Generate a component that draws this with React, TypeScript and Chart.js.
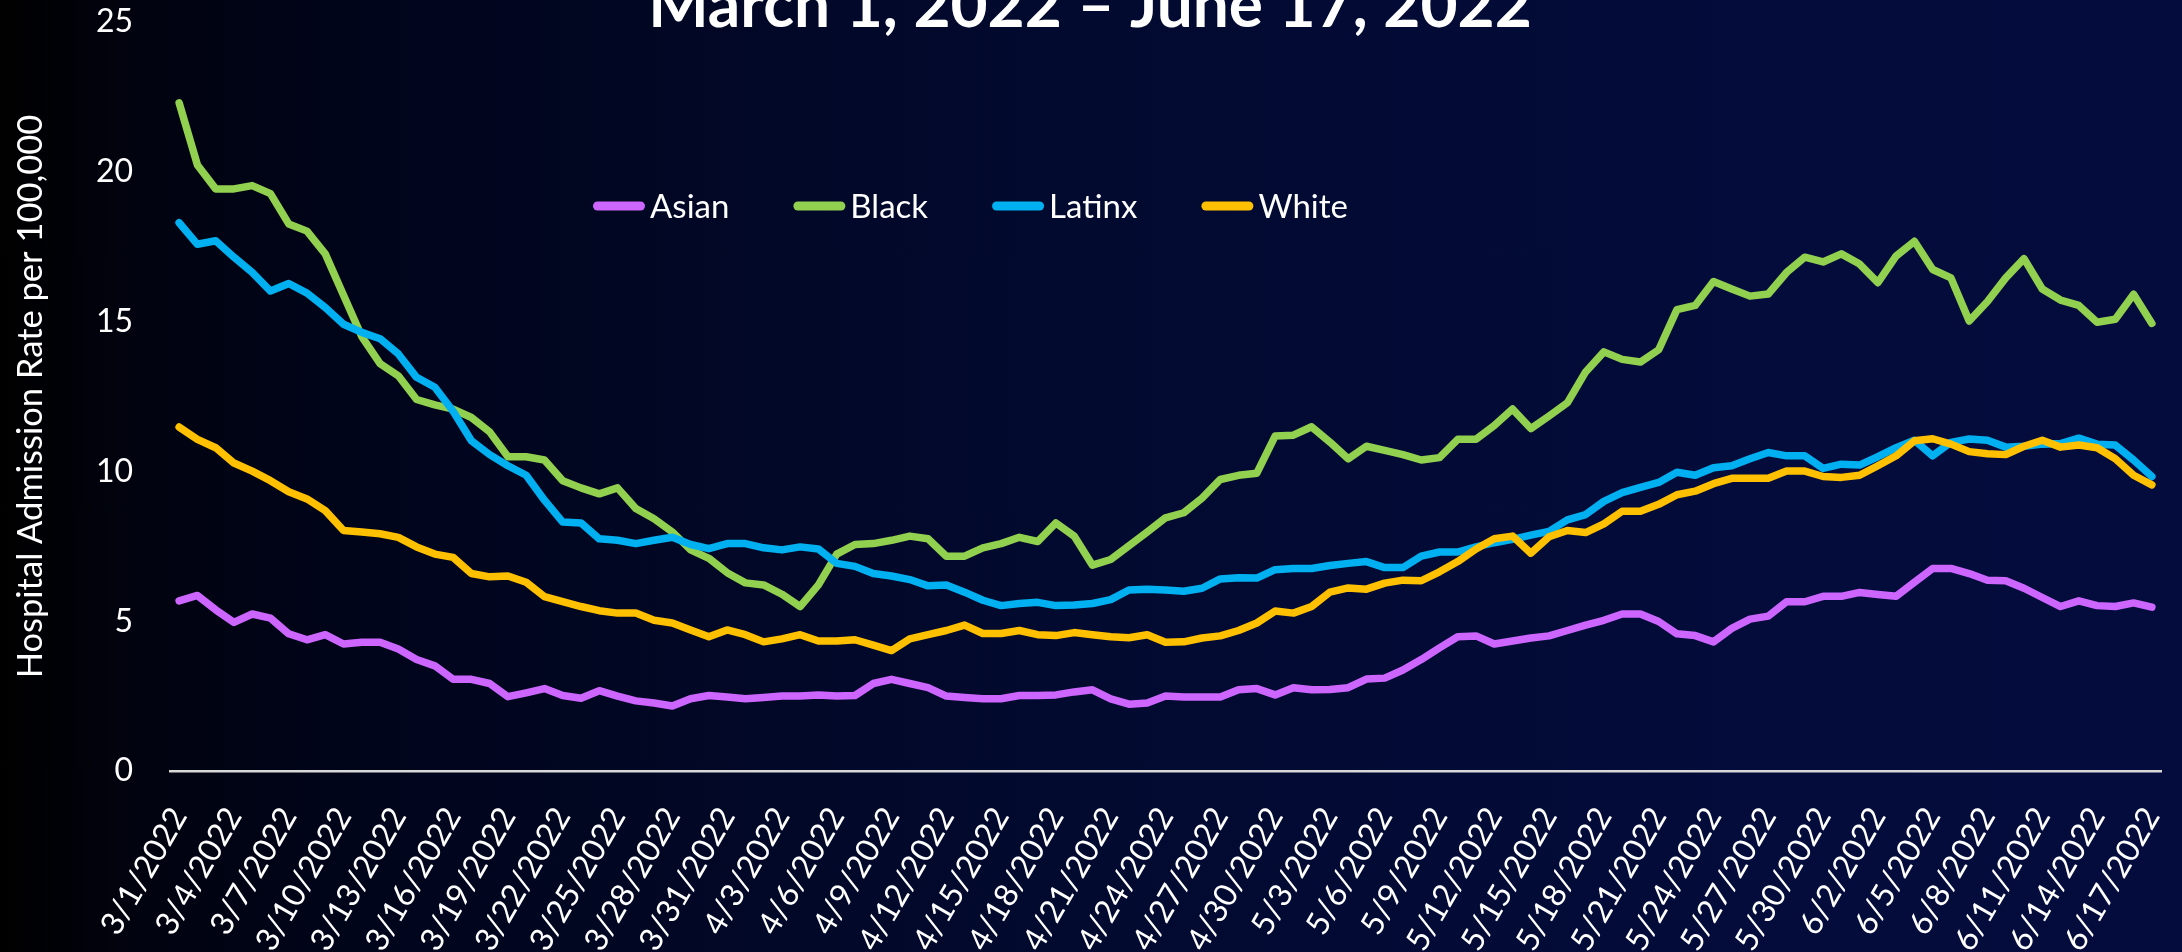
import { useEffect, useRef } from "react";
import { Chart, registerables } from "chart.js";

Chart.register(...registerables);

const TITLE = "March 1, 2022 – June 17, 2022";
const Y_TITLE = "Hospital Admission Rate per 100,000";

const DATES = [
  "3/1/2022","3/2/2022","3/3/2022","3/4/2022","3/5/2022","3/6/2022","3/7/2022","3/8/2022","3/9/2022","3/10/2022",
  "3/11/2022","3/12/2022","3/13/2022","3/14/2022","3/15/2022","3/16/2022","3/17/2022","3/18/2022","3/19/2022","3/20/2022",
  "3/21/2022","3/22/2022","3/23/2022","3/24/2022","3/25/2022","3/26/2022","3/27/2022","3/28/2022","3/29/2022","3/30/2022",
  "3/31/2022",
  "4/1/2022","4/2/2022","4/3/2022","4/4/2022","4/5/2022","4/6/2022","4/7/2022","4/8/2022","4/9/2022","4/10/2022",
  "4/11/2022","4/12/2022","4/13/2022","4/14/2022","4/15/2022","4/16/2022","4/17/2022","4/18/2022","4/19/2022","4/20/2022",
  "4/21/2022","4/22/2022","4/23/2022","4/24/2022","4/25/2022","4/26/2022","4/27/2022","4/28/2022","4/29/2022","4/30/2022",
  "5/1/2022","5/2/2022","5/3/2022","5/4/2022","5/5/2022","5/6/2022","5/7/2022","5/8/2022","5/9/2022","5/10/2022",
  "5/11/2022","5/12/2022","5/13/2022","5/14/2022","5/15/2022","5/16/2022","5/17/2022","5/18/2022","5/19/2022","5/20/2022",
  "5/21/2022","5/22/2022","5/23/2022","5/24/2022","5/25/2022","5/26/2022","5/27/2022","5/28/2022","5/29/2022","5/30/2022",
  "5/31/2022",
  "6/1/2022","6/2/2022","6/3/2022","6/4/2022","6/5/2022","6/6/2022","6/7/2022","6/8/2022","6/9/2022","6/10/2022",
  "6/11/2022","6/12/2022","6/13/2022","6/14/2022","6/15/2022","6/16/2022","6/17/2022",
];

const ASIAN = [
  5.68, 5.86, 5.38, 4.96, 5.24, 5.10, 4.58, 4.38, 4.55, 4.24, 4.30, 4.30, 4.07, 3.72, 3.51, 3.06, 3.06, 2.92, 2.48, 2.61, 2.75, 2.52, 2.43, 2.68, 2.50, 2.34, 2.27,
  2.17, 2.41, 2.52, 2.47, 2.41, 2.45, 2.50, 2.50, 2.54, 2.50, 2.52, 2.92, 3.06, 2.92, 2.78, 2.50, 2.45, 2.41, 2.41, 2.52, 2.52, 2.54, 2.64, 2.71, 2.41, 2.23, 2.27,
  2.50, 2.47, 2.47, 2.47, 2.71, 2.75, 2.54, 2.78, 2.71, 2.72, 2.78, 3.07, 3.10, 3.37, 3.72, 4.11, 4.48, 4.51, 4.24, 4.34, 4.44, 4.51, 4.69, 4.87, 5.03, 5.24, 5.24,
  4.99, 4.58, 4.52, 4.31, 4.76, 5.07, 5.17, 5.65, 5.65, 5.83, 5.83, 5.96, 5.89, 5.83, 6.30, 6.76, 6.76, 6.59, 6.37, 6.35, 6.10, 5.79, 5.49, 5.68, 5.52, 5.49, 5.61, 5.47,
];

const BLACK = [
  22.30, 20.23, 19.43, 19.43, 19.54, 19.27, 18.26, 18.02, 17.26, 15.88, 14.50, 13.60, 13.19, 12.40, 12.22, 12.08, 11.80, 11.32, 10.49, 10.49, 10.38, 9.69, 9.45, 9.25, 9.45, 8.76, 8.42,
  7.98, 7.38, 7.10, 6.62, 6.28, 6.21, 5.90, 5.49, 6.21, 7.24, 7.56, 7.59, 7.70, 7.84, 7.75, 7.17, 7.17, 7.45, 7.59, 7.80, 7.66, 8.28, 7.84, 6.87, 7.06, 7.52, 7.98,
  8.45, 8.62, 9.11, 9.73, 9.87, 9.94, 11.18, 11.21, 11.49, 10.98, 10.42, 10.84, 10.70, 10.56, 10.38, 10.46, 11.07, 11.07, 11.53, 12.08, 11.43, 11.85, 12.29, 13.32, 13.99, 13.74, 13.65,
  14.06, 15.40, 15.54, 16.34, 16.09, 15.85, 15.92, 16.64, 17.15, 16.99, 17.26, 16.92, 16.30, 17.19, 17.68, 16.74, 16.46, 15.02, 15.67, 16.46, 17.10, 16.09, 15.72, 15.54, 14.98, 15.08, 15.91, 14.94,
];

const LATINX = [
  18.30, 17.58, 17.70, 17.15, 16.64, 16.02, 16.27, 15.95, 15.47, 14.91, 14.64, 14.43, 13.92, 13.14, 12.81, 12.01, 11.02, 10.56, 10.19, 9.87, 9.04, 8.31, 8.28, 7.75, 7.70, 7.59, 7.70,
  7.80, 7.56, 7.42, 7.59, 7.59, 7.45, 7.38, 7.48, 7.41, 6.93, 6.83, 6.59, 6.51, 6.39, 6.18, 6.21, 5.97, 5.70, 5.52, 5.59, 5.63, 5.52, 5.54, 5.59, 5.72, 6.04, 6.07,
  6.04, 6.00, 6.10, 6.41, 6.45, 6.44, 6.72, 6.76, 6.76, 6.86, 6.93, 6.99, 6.79, 6.79, 7.17, 7.31, 7.31, 7.48, 7.62, 7.73, 7.87, 8.00, 8.38, 8.56, 9.00, 9.29, 9.47,
  9.63, 9.97, 9.87, 10.12, 10.19, 10.42, 10.63, 10.52, 10.52, 10.10, 10.24, 10.21, 10.49, 10.79, 11.04, 10.52, 10.97, 11.08, 11.04, 10.81, 10.84, 10.91, 10.93, 11.11, 10.91, 10.88, 10.38, 9.83,
];

const WHITE = [
  11.48, 11.07, 10.79, 10.28, 10.01, 9.69, 9.32, 9.08, 8.69, 8.03, 7.98, 7.92, 7.80, 7.48, 7.24, 7.13, 6.59, 6.48, 6.51, 6.30, 5.82, 5.65, 5.49, 5.35, 5.27, 5.27, 5.03,
  4.94, 4.71, 4.48, 4.71, 4.55, 4.31, 4.41, 4.55, 4.34, 4.34, 4.38, 4.20, 4.02, 4.41, 4.55, 4.69, 4.87, 4.59, 4.59, 4.69, 4.55, 4.52, 4.62, 4.55, 4.48, 4.45, 4.55,
  4.30, 4.31, 4.44, 4.51, 4.69, 4.94, 5.34, 5.27, 5.49, 5.97, 6.11, 6.07, 6.27, 6.37, 6.35, 6.65, 6.99, 7.41, 7.75, 7.84, 7.27, 7.82, 8.03, 7.96, 8.25, 8.67, 8.67,
  8.90, 9.22, 9.34, 9.59, 9.77, 9.77, 9.77, 10.01, 10.01, 9.83, 9.80, 9.87, 10.19, 10.52, 11.02, 11.09, 10.91, 10.66, 10.59, 10.56, 10.84, 11.04, 10.81, 10.88, 10.79, 10.42, 9.87, 9.55,
];

const SERIES_NAMES = ["Asian", "Black", "Latinx", "White"];
const SERIES_VALUES = [ASIAN, BLACK, LATINX, WHITE];
const SERIES_COLORS = ["#CC66FF", "#92D050", "#00B0F0", "#FFC000"];
const Y_TICKS = [0, 5, 10, 15, 20, 25];

const W = 2182;
const H = 952;
const FONT = "Lato, 'Open Sans', sans-serif";

const overlayPlugin = {
  id: "overlay",
  afterDraw(chart: any) {
    const ctx = chart.ctx as CanvasRenderingContext2D;
    ctx.save();
    // title (top part cropped, as in the reference)
    ctx.fillStyle = "#FFFFFF";
    ctx.font = `bold 64px ${FONT}`;
    ctx.textAlign = "center";
    ctx.textBaseline = "alphabetic";
    ctx.fillText(TITLE, 1090, 27);

    // legend inside plot
    ctx.font = `33px ${FONT}`;
    ctx.textAlign = "left";
    ctx.textBaseline = "middle";
    let x = 593;
    const y = 206;
    SERIES_NAMES.forEach((name, i) => {
      ctx.strokeStyle = SERIES_COLORS[i];
      ctx.lineWidth = 9;
      ctx.lineCap = "round";
      ctx.beginPath();
      ctx.moveTo(x + 4.5, y);
      ctx.lineTo(x + 47.5, y);
      ctx.stroke();
      ctx.fillStyle = "#FFFFFF";
      ctx.fillText(name, x + 57, y + 1);
      x += 57 + ctx.measureText(name).width + 64;
    });
    ctx.restore();
  },
};

export default function App() {
  const canvasRef = useRef<HTMLCanvasElement | null>(null);

  useEffect(() => {
    const canvas = canvasRef.current;
    if (!canvas) return;
    const chart = new Chart(canvas, {
      type: "line",
      data: {
        labels: DATES,
        datasets: SERIES_NAMES.map((name, i) => ({
          label: name,
          data: SERIES_VALUES[i],
          borderColor: SERIES_COLORS[i],
          backgroundColor: SERIES_COLORS[i],
          borderWidth: 7.5,
          pointRadius: 0,
          tension: 0,
          borderJoinStyle: "round" as const,
          borderCapStyle: "round" as const,
          order: SERIES_NAMES.length - i,
        })),
      },
      options: {
        animation: false,
        responsive: false,
        devicePixelRatio: 1,
        layout: { padding: { top: 22, right: 21, left: 0, bottom: 0 } },
        plugins: {
          legend: { display: false },
          title: { display: false },
          tooltip: { enabled: false },
        },
        scales: {
          x: {
            offset: true,
            grid: { display: false, drawTicks: false },
            border: { display: true, color: "#D9D9D9", width: 2.5 },
            ticks: {
              autoSkip: false,
              minRotation: 60,
              maxRotation: 60,
              color: "#FFFFFF",
              padding: 30,
              font: { family: FONT, size: 32 },
              callback: (_v: any, i: number) => (i % 3 === 0 ? DATES[i] : ""),
            },
            afterFit: (s: any) => {
              s.height = 181;
              s.paddingLeft = 0;
              s.paddingRight = 0;
            },
          },
          y: {
            min: 0,
            max: 25,
            grid: { display: false, drawTicks: false },
            border: { display: false },
            afterBuildTicks: (s: any) => {
              s.ticks = Y_TICKS.map((v) => ({ value: v }));
            },
            ticks: {
              color: "#FFFFFF",
              padding: 37,
              font: { family: FONT, size: 32 },
            },
            title: {
              display: true,
              text: Y_TITLE,
              color: "#FFFFFF",
              font: { family: FONT, size: 34.5 },
              padding: { top: 10, bottom: 0 },
            },
            afterFit: (s: any) => {
              s.width = 170;
              s.paddingTop = 0;
              s.paddingBottom = 0;
            },
          },
        },
      },
      plugins: [overlayPlugin],
    });
    return () => chart.destroy();
  }, []);

  return (
    <div
      style={{
        position: "absolute",
        left: 0,
        top: 0,
        width: W,
        height: H,
        overflow: "hidden",
        background:
          "linear-gradient(to right, #000000 0%, #01030f 6%, #01051c 18%, #020a30 50%, #030c3a 80%, #040c3d 100%)",
      }}
    >
      <canvas ref={canvasRef} width={W} height={H} style={{ display: "block" }} />
    </div>
  );
}
